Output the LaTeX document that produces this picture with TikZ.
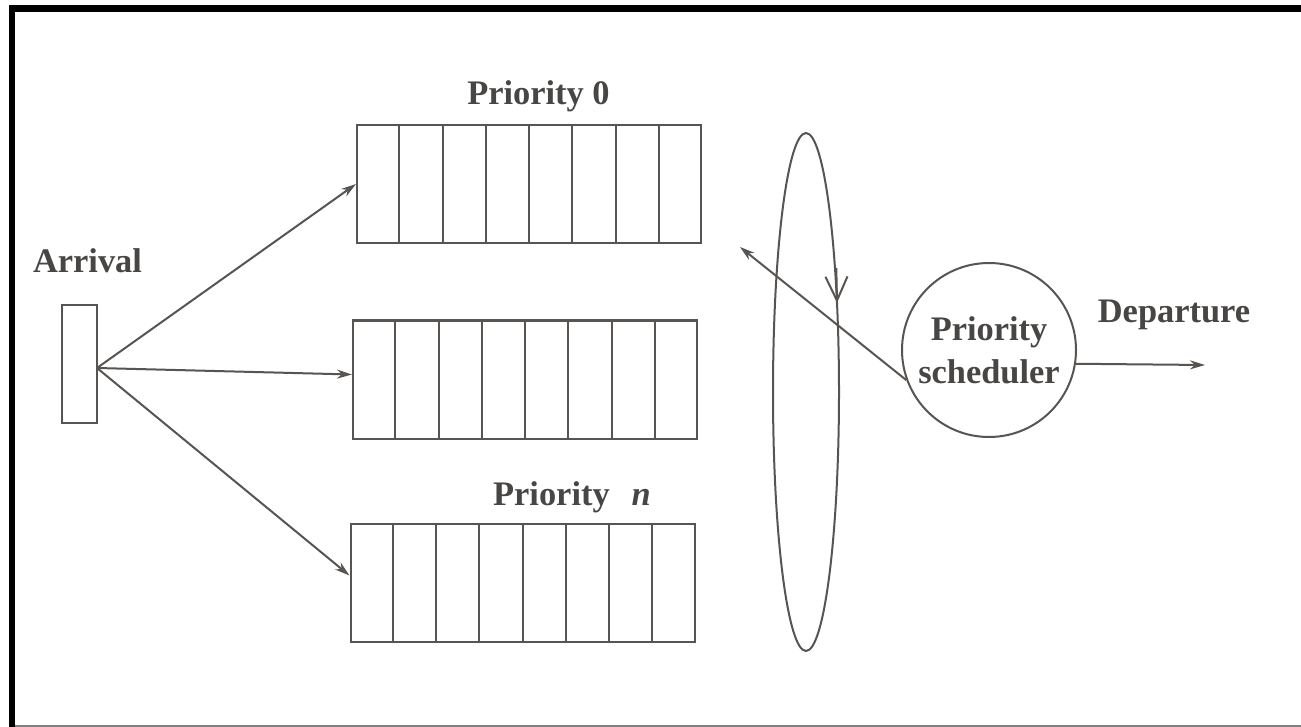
\documentclass[tikz,border=0pt]{standalone}
\usepackage{fontspec}
\setmainfont{Liberation Serif}
\usetikzlibrary{arrows.meta,calc}
\definecolor{ink}{RGB}{88,84,82}
\definecolor{txt}{RGB}{72,70,68}
\begin{document}
\begin{tikzpicture}[x=0.5pt,y=-0.5pt,
  line/.style={draw=ink,line width=1pt},
  arr/.style={line,-{Stealth[length=7.5pt,width=4.5pt]}},
  queue/.style={line,rectangle,minimum width=172pt,minimum height=59pt,inner sep=0pt},
  lbl/.style={text=txt,font=\fontsize{17.2}{21.5}\selectfont\bfseries,inner sep=0pt,anchor=base}]
\useasboundingbox (0,0) rectangle (1301,727);
\fill[white] (0,0) rectangle (1301,727);
% frame
\fill[black] (9,5) rectangle (1301,12);
\fill[black] (9,5) rectangle (15,727);
\draw[gray,line width=0.6pt] (15,726) -- (1301,726);
% arrival
\node[line,rectangle,minimum width=17.5pt,minimum height=59pt,inner sep=0pt] (arr) at (79.5,364) {};
\node[lbl] (arrl) at (87.5,273) {Arrival};
\coordinate (fan) at (97,368);
% queues
\node[queue] (q0) at (529,184) {};
\node[queue] (q1) at (525,379.5) {};
\node[queue] (q2) at (522.5,582.5) {};
\foreach \q in {q0,q1,q2}{
  \foreach \i in {1,...,7}
    \draw[line] ($(\q.north west)!\i/8!(\q.north east)$) -- ($(\q.south west)!\i/8!(\q.south east)$);
}
\node[lbl] (p0) at (538.5,105) {Priority 0};
\node[lbl] (pn) at (572,505) {Priority\hspace{11pt}\textit{n}};
% fan arrows
\draw[arr] (fan) -- (q0.west);
\draw[arr] (fan) -- ($(q1.west)+(0,-5)$);
\draw[arr] (fan) -- ($(q2.west)+(0,-7)$);
% round robin ellipse
\draw[line] (806,392) ellipse [x radius=33, y radius=259];
\coordinate (ea) at (836.3,268);
\coordinate (eb) at (837,303);
\draw[line,-{Straight Barb[length=12pt,width=11pt]}] (ea) -- (eb);
% scheduler
\node[line,circle,minimum size=87pt,inner sep=0pt,align=center,text=txt,
      font=\fontsize{17.2}{21.5}\selectfont\bfseries] (sch) at (989,350) {Priority\\scheduler};
\coordinate (back) at (740,247);
\draw[arr] (sch.200) -- (back);
\coordinate (dep) at (1205,365);
\draw[arr] (sch.-9) -- (dep);
\node[lbl] (depl) at (1174,322) {Departure};
\end{tikzpicture}
\end{document}
